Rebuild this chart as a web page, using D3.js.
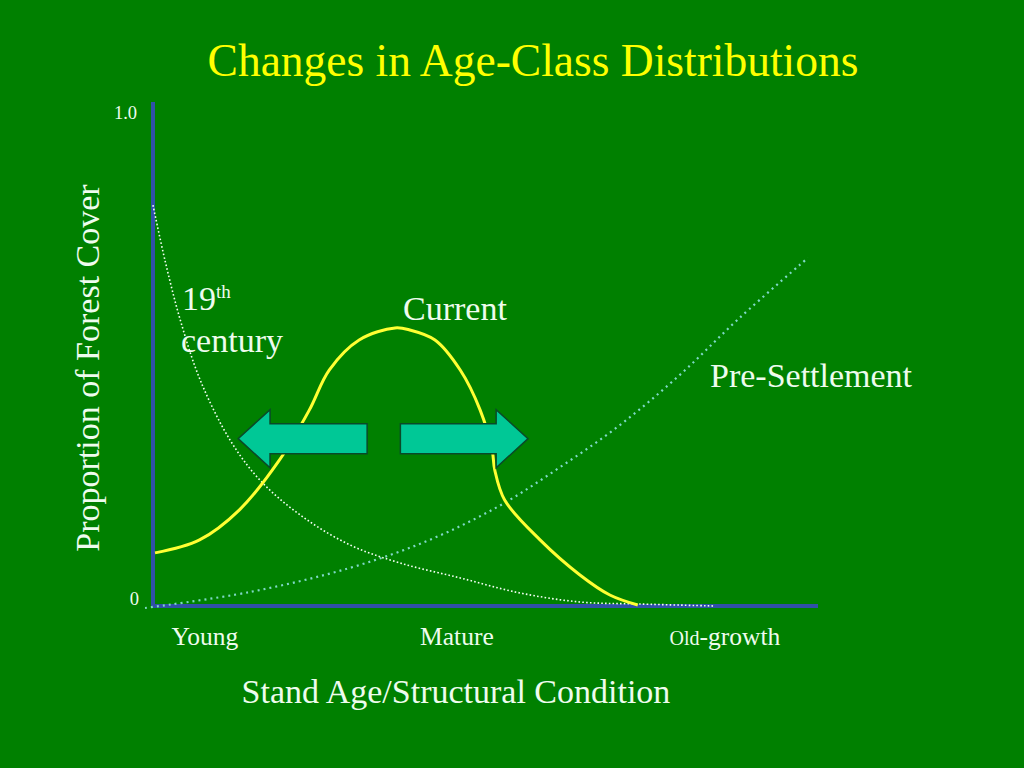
<!DOCTYPE html>
<html><head><meta charset="utf-8">
<script src="https://cdn.jsdelivr.net/npm/d3@7"></script>
<style>html,body{margin:0;padding:0;background:#008000;}svg{display:block;}</style>
</head><body>
<svg id="c" width="1024" height="768"></svg>
<script>
// Data (x: stand age 0..1, y: proportion of forest cover 0..1)
const currentX = [0.003,0.07,0.13,0.19,0.235,0.265,0.31,0.364,0.386,0.424,0.462,0.492,0.510,0.514,0.529,0.582,0.642,0.687,0.729];
const currentY = [0.106,0.132,0.192,0.291,0.391,0.471,0.531,0.555,0.551,0.531,0.471,0.391,0.311,0.271,0.211,0.132,0.062,0.022,0.002];
const c19X = [0.0,0.018,0.041,0.071,0.116,0.161,0.221,0.296,0.371,0.462,0.552,0.642,0.732,0.845];
const c19Y = [0.800,0.690,0.571,0.451,0.331,0.251,0.182,0.122,0.086,0.056,0.026,0.008,0.004,0.000];
const preX = [-0.012,0.146,0.296,0.416,0.521,0.612,0.702,0.792,0.882,0.985];
const preY = [-0.004,0.028,0.076,0.132,0.200,0.277,0.361,0.461,0.575,0.695];
const xTicks = [{v:0.078,t:"Young"},{v:0.457,t:"Mature"},{v:0.86,t:"Old-growth"}];
const yTicks = [{v:0,t:"0"},{v:1,t:"1.0"}];
// arrows: [tailX, tipX, centerY] in data units
const arrows = [[0.322,0.128,0.334],[0.372,0.564,0.334]];

const svg = d3.select("#c");
const x = d3.scaleLinear().domain([0,1]).range([153,818]);
const y = d3.scaleLinear().domain([0,1]).range([606,105]);
const serif = "'Liberation Serif','Times New Roman',serif";
const txt = "#eefcee";

svg.append("rect").attr("width",1024).attr("height",768).attr("fill","#008000");

// title
svg.append("text").attr("x",533).attr("y",76).attr("text-anchor","middle")
  .attr("font-family",serif).attr("font-size",45.5).attr("fill","#ffff00")
  .text("Changes in Age-Class Distributions");

// axes
svg.append("line").attr("x1",x(0)).attr("x2",x(0)).attr("y1",y(1)-3).attr("y2",y(0))
  .attr("stroke","#3050a8").attr("stroke-width",4);
svg.append("line").attr("x1",x(0)).attr("x2",x(1)).attr("y1",y(0)).attr("y2",y(0))
  .attr("stroke","#3050a8").attr("stroke-width",4);

// y tick labels
svg.selectAll(".yt").data(yTicks).join("text")
  .attr("x",d=>d.v===1?137:139).attr("y",d=>d.v===1?y(d.v)+14:y(d.v)-1)
  .attr("text-anchor","end").attr("font-family",serif).attr("font-size",18.5).attr("fill",txt)
  .text(d=>d.t);

// x tick labels
const xt = svg.selectAll(".xt").data(xTicks).join("text")
  .attr("x",d=>x(d.v)).attr("y",645).attr("text-anchor","middle")
  .attr("font-family",serif).attr("font-size",25.5).attr("fill",txt);
xt.each(function(d){
  const s = d3.select(this);
  if(d.t==="Old-growth"){
    s.append("tspan").attr("font-size",20).text("Old");
    s.append("tspan").text("-growth");
  } else s.text(d.t);
});

// axis titles
svg.append("text").attr("x",456).attr("y",703).attr("text-anchor","middle")
  .attr("font-family",serif).attr("font-size",34).attr("fill",txt)
  .text("Stand Age/Structural Condition");
svg.append("text").attr("transform","translate(99,368) rotate(-90)").attr("text-anchor","middle")
  .attr("font-family",serif).attr("font-size",34).attr("fill",txt)
  .text("Proportion of Forest Cover");

const line = d3.line().x(d=>x(d[0])).y(d=>y(d[1])).curve(d3.curveCatmullRom.alpha(0.5));

// pre-settlement
svg.append("path").datum(preX.map((v,i)=>[v,preY[i]])).attr("d",line)
  .attr("fill","none").attr("stroke","#7fd8c8").attr("stroke-width",2.2)
  .attr("stroke-dasharray","2 4");
// 19th century
svg.append("path").datum(c19X.map((v,i)=>[v,c19Y[i]])).attr("d",line)
  .attr("fill","none").attr("stroke","#f4fff4").attr("stroke-width",1.6)
  .attr("stroke-dasharray","1.6 2.2");
// current
svg.append("path").datum(currentX.map((v,i)=>[v,currentY[i]])).attr("d",line)
  .attr("fill","none").attr("stroke","#ffff33").attr("stroke-width",3);

// arrows
const shaftH = 0.03, headH = 0.058, headL = 0.048;
svg.selectAll(".arr").data(arrows).join("path")
  .attr("d",d=>{
    const [t,tip,cy]=d; const dir = tip>t?1:-1;
    const hb = tip - dir*headL;
    const pts = [[t,cy+shaftH],[hb,cy+shaftH],[hb,cy+headH],[tip,cy],[hb,cy-headH],[hb,cy-shaftH],[t,cy-shaftH]];
    return "M"+pts.map(p=>x(p[0])+","+y(p[1])).join("L")+"Z";
  })
  .attr("fill","#00c896").attr("stroke","#0a4a28").attr("stroke-width",1.5);

// labels
const l19 = svg.append("text").attr("x",182).attr("y",310).attr("font-family",serif)
  .attr("font-size",34).attr("fill",txt);
l19.append("tspan").text("19");
l19.append("tspan").attr("font-size",19).attr("dy",-12).text("th");
svg.append("text").attr("x",181).attr("y",352).attr("font-family",serif)
  .attr("font-size",34).attr("fill",txt).text("century");
svg.append("text").attr("x",403).attr("y",320).attr("font-family",serif)
  .attr("font-size",34).attr("fill",txt).text("Current");
svg.append("text").attr("x",710).attr("y",387).attr("font-family",serif)
  .attr("font-size",34).attr("fill",txt).text("Pre-Settlement");
</script>
</body></html>
